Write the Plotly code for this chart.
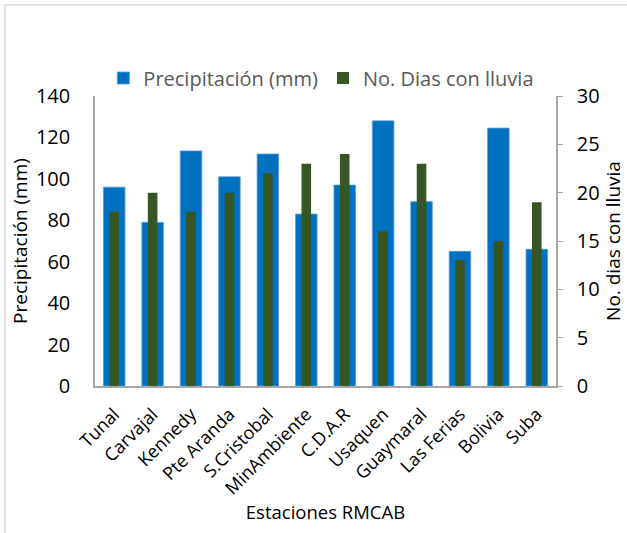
import plotly.graph_objects as go

estaciones = ["Tunal", "Carvajal", "Kennedy", "Pte Aranda", "S.Cristobal", "MinAmbiente",
              "C.D.A.R", "Usaquen", "Guaymaral", "Las Ferias", "Bolivia", "Suba"]
precipitacion = [96, 79, 113.5, 101, 112, 83, 97, 128, 89, 65, 124.5, 66]
dias_lluvia = [18, 20, 18, 20, 22, 23, 24, 16, 23, 13, 15, 19]

FONT = "Open Sans"
fig = go.Figure()
fig.add_trace(go.Bar(x=estaciones, y=precipitacion, name="Precipitación (mm)",
                     marker=dict(color="#0070C0", line=dict(color="#5B9BD5", width=0.8)),
                     width=0.56, yaxis="y"))
fig.add_trace(go.Bar(x=estaciones, y=dias_lluvia, name="No. Dias con lluvia",
                     marker=dict(color="#375623", line=dict(width=0)),
                     width=0.25, yaxis="y2"))

fig.update_layout(
    width=627, height=533,
    barmode="overlay",
    paper_bgcolor="white", plot_bgcolor="white",
    margin=dict(l=95, r=71, t=96, b=147),
    font=dict(family=FONT, color="black"),
    showlegend=True,
    legend=dict(orientation="h", x=0.491, xanchor="center", y=1.062, yanchor="middle",
                font=dict(size=20, color="#595959"), itemwidth=30, traceorder="normal"),
    xaxis=dict(showline=True, linecolor="#A6A6A6", linewidth=1.5, tickangle=-45,
               tickfont=dict(size=18), ticks="", showgrid=False, automargin=False,
               ticklabelstandoff=9,
               title=dict(text="Estaciones RMCAB", font=dict(size=18.5), standoff=8)),
    yaxis=dict(range=[0, 140], dtick=20, showline=True, linecolor="#A6A6A6", linewidth=1.5,
               showgrid=False, ticks="", tickfont=dict(size=20), zeroline=False, automargin=False,
               ticklabelstandoff=19,
               title=dict(text="Precipitación (mm)", font=dict(size=19), standoff=3)),
    yaxis2=dict(range=[0, 30], dtick=5, overlaying="y", side="right", showline=True,
                linecolor="#A6A6A6", linewidth=1.5, ticks="outside", ticklen=5,
                tickcolor="#A6A6A6", showgrid=False, tickfont=dict(size=20), zeroline=False,
                automargin=False, ticklabelstandoff=10,
                title=dict(text="No. dias con lluvia", font=dict(size=19), standoff=8)),
    shapes=[dict(type="rect", xref="paper", yref="paper",
                 x0=-90/461, x1=1 + 80/461, y0=-160/290, y1=1 + 91/290,
                 line=dict(color="#D9D9D9", width=1.5), fillcolor="rgba(0,0,0,0)")],
)
fig.write_html("out.html", config={"displayModeBar": False},
               post_script="document.body.style.margin='0';document.body.style.padding='0';")
